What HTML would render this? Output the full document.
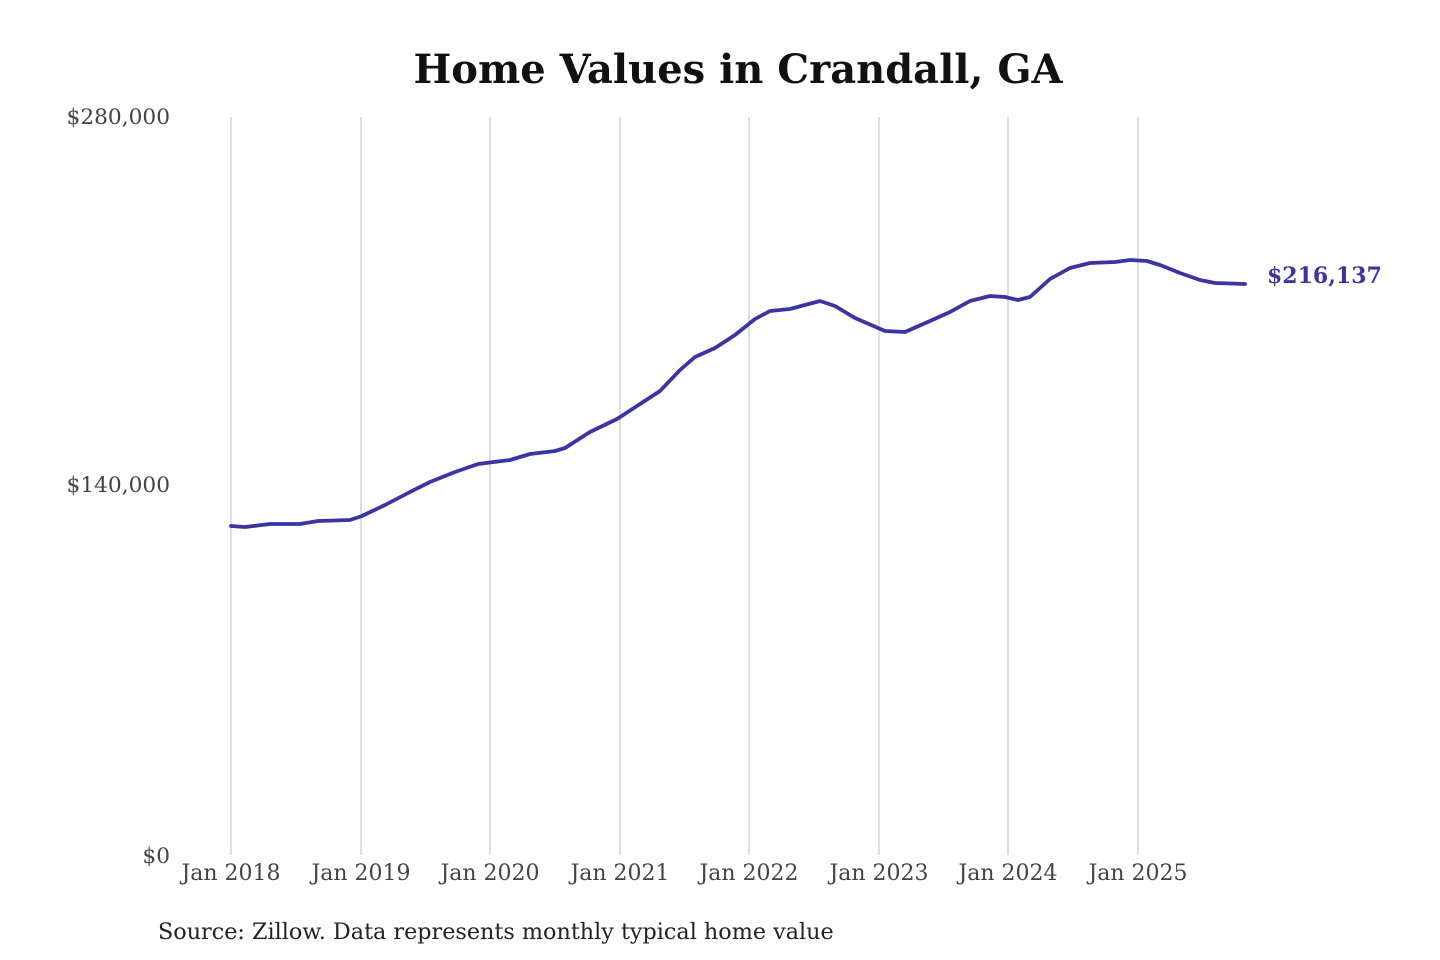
<!DOCTYPE html>
<html><head><meta charset="utf-8"><style>
html,body{margin:0;padding:0;background:#fff;}
svg{display:block;}
</style></head><body>
<svg width="1440" height="960" viewBox="0 0 1440 960" xmlns="http://www.w3.org/2000/svg" font-family="'DejaVu Serif','Liberation Serif',serif">
<rect width="1440" height="960" fill="#fff"/>
<text x="738" y="83" text-anchor="middle" font-size="40" font-weight="bold" fill="#111">Home Values in Crandall, GA</text>
<g stroke="#c8c8c8" stroke-width="1.2">
<line x1="231" y1="117" x2="231" y2="855"/>
<line x1="361" y1="117" x2="361" y2="855"/>
<line x1="490" y1="117" x2="490" y2="855"/>
<line x1="620" y1="117" x2="620" y2="855"/>
<line x1="749" y1="117" x2="749" y2="855"/>
<line x1="879" y1="117" x2="879" y2="855"/>
<line x1="1008" y1="117" x2="1008" y2="855"/>
<line x1="1138" y1="117" x2="1138" y2="855"/>
</g>
<g font-size="21.7" fill="#444" text-anchor="end">
<text x="170" y="124">$280,000</text>
<text x="170" y="492">$140,000</text>
<text x="170" y="863">$0</text>
</g>
<g font-size="22" fill="#444" text-anchor="middle">
<text x="231" y="880">Jan 2018</text>
<text x="361" y="880">Jan 2019</text>
<text x="490" y="880">Jan 2020</text>
<text x="620" y="880">Jan 2021</text>
<text x="749" y="880">Jan 2022</text>
<text x="879" y="880">Jan 2023</text>
<text x="1008" y="880">Jan 2024</text>
<text x="1138" y="880">Jan 2025</text>
</g>
<polyline fill="none" stroke="#3a35a0" stroke-width="3.8" stroke-linejoin="round" stroke-linecap="round"
points="231,526 245,527 270,524 300,524 318,521 350,520 362,516 385,505 410,492 430,482 455,472 478,464 510,460 530,454 555,451 565,448 590,432 617,419 640,404 660,391 680,370 695,357 715,348 735,335 755,319 770,311 790,309 805,305 820,301 835,306 855,318 885,331 905,332 930,321 950,312 970,301 990,296 1005,297 1018,300 1030,297 1050,279 1070,268 1090,263 1115,262 1130,260 1147,261 1160,265 1180,273 1200,280 1215,283 1245,284"/>
<text x="1267" y="283" font-size="22" font-weight="bold" fill="#3a35a0">$216,137</text>
<text x="158" y="939" font-size="22.3" fill="#222">Source: Zillow. Data represents monthly typical home value</text>
</svg>
</body></html>
